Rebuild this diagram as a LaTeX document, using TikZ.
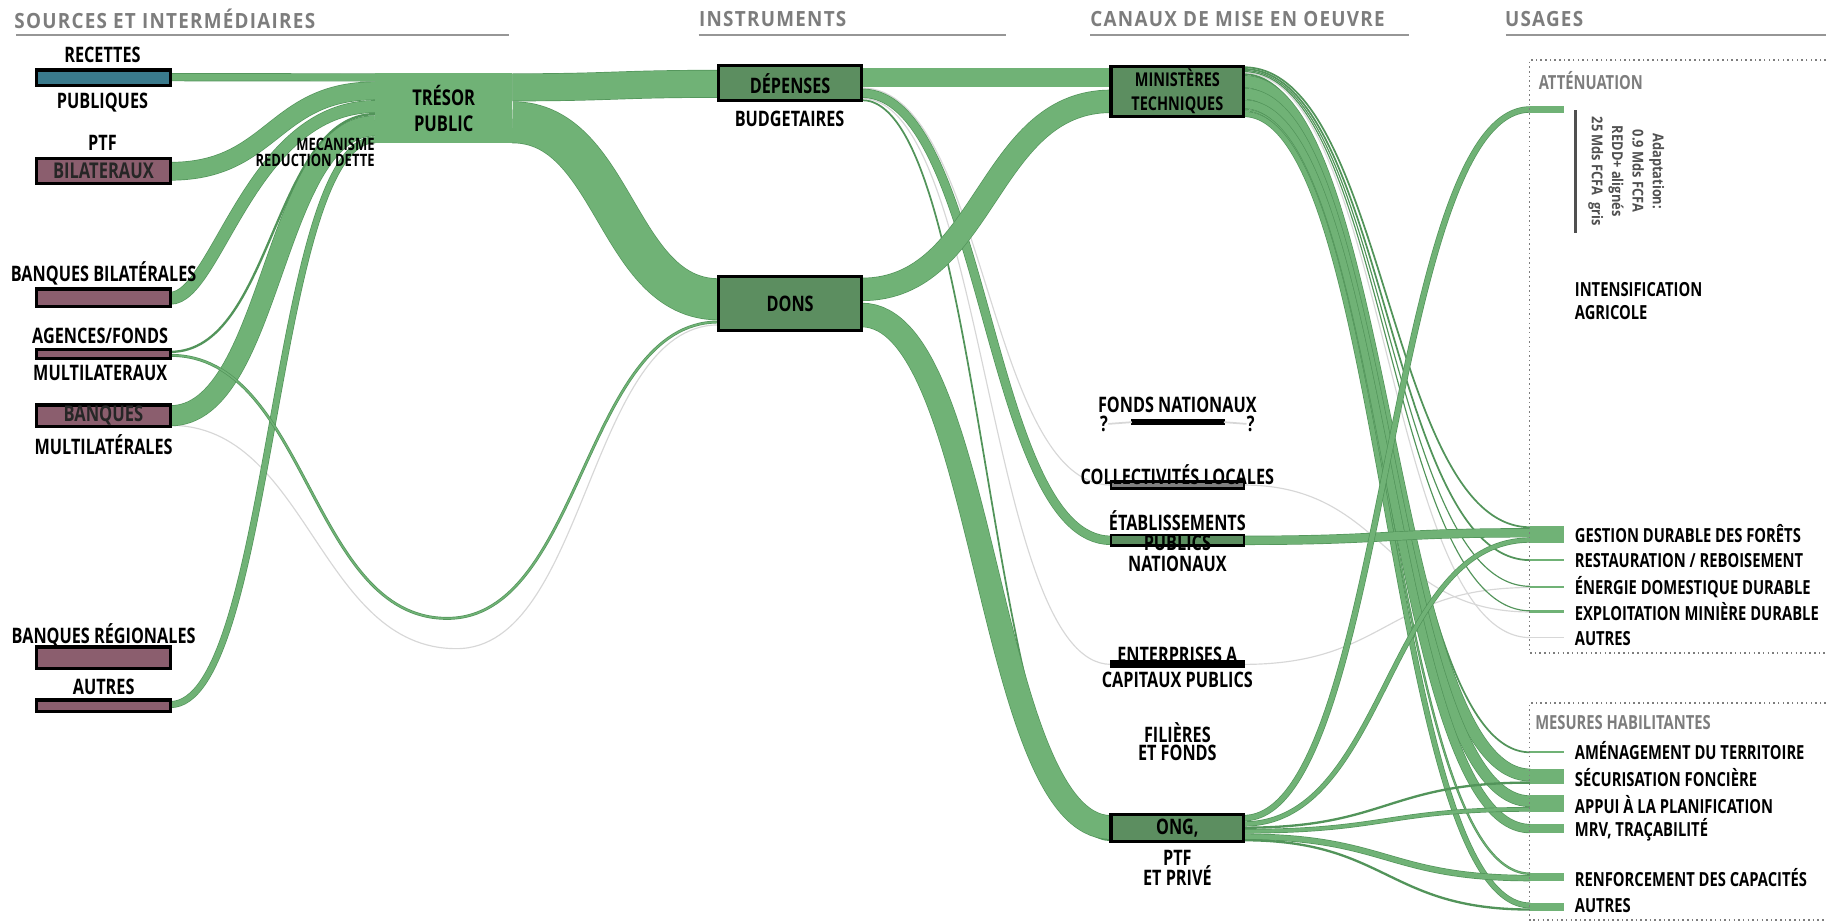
\documentclass[tikz,border=0pt]{standalone}
\usepackage{fontspec}
\newfontfamily\lblfont{Open Sans}[FakeStretch=0.76]
\newfontfamily\hdrfont{Open Sans}[FakeStretch=0.9,LetterSpace=6]
\newfontfamily\notefont{Open Sans}[FakeStretch=0.86]
\usepackage{tikz}
\usetikzlibrary{
  positioning,
  calc,
  backgrounds
}
\definecolor{FlowGreen}{RGB}{112,178,118}
\definecolor{FlowEdge}{RGB}{82,148,90}
\definecolor{BoxGreen}{RGB}{92,142,96}
\definecolor{SrcTeal}{RGB}{58,122,140}
\definecolor{SrcMauve}{RGB}{139,94,110}
\definecolor{FaintGrey}{RGB}{215,215,215}
\definecolor{HeadGrey}{RGB}{125,125,125}
\definecolor{RuleGrey}{RGB}{150,150,150}
\definecolor{NoteGrey}{RGB}{80,80,80}
\newcommand{\upx}{0.6pt}
\tikzset{
  % Source box
  srcbox/.style={
    draw=black,
    line width=1.8pt,
    fill=SrcMauve,
    minimum width=115*\upx,
    inner sep=0pt,
    outer sep=0pt,
    font=\lblfont\bfseries\fontsize{11.2}{13}\selectfont,
    text=black!85
  },
  % Instrument / channel box
  insbox/.style={
    draw=black,
    line width=1.6pt,
    fill=BoxGreen,
    minimum width=123*\upx,
    inner sep=0pt,
    outer sep=0pt,
    align=center,
    font=\lblfont\bfseries\fontsize{11}{13}\selectfont
  },
  chbox/.style={insbox, minimum width=114*\upx},
  % Thin bar of a channel
  chbar/.style={draw=black, line width=1.2pt, fill=#1, minimum width=114*\upx, inner sep=0pt, outer sep=0pt},
  % Bar of a usage
  usebar/.style={fill=FlowGreen, minimum width=29*\upx, inner sep=0pt, outer sep=0pt},
  % Flows
  band/.style={draw=FlowEdge, line width=#1*\upx, postaction={draw=FlowGreen, line width=#1*\upx-0.7pt}},
  thinband/.style={draw=FlowEdge, line width=#1*\upx},
  faint/.style={draw=FaintGrey, line width=#1*\upx},
  % Texts
  lbl/.style={font=\lblfont\bfseries\fontsize{11}{13}\selectfont, inner sep=0pt, align=center},
  ulbl/.style={font=\lblfont\bfseries\fontsize{10}{12}\selectfont, inner sep=0pt, anchor=west},
  glbl/.style={ulbl, text=HeadGrey},
  hdr/.style={font=\hdrfont\bfseries\fontsize{10.8}{12}\selectfont, text=HeadGrey, anchor=west, inner sep=0pt},
  rule/.style={draw=RuleGrey, line width=1.2pt},
  frame/.style={draw=HeadGrey, line width=0.8pt, dash pattern=on 0.8pt off 1.6pt}
}

\begin{document}
\begin{tikzpicture}[x=0.6pt, y=-0.6pt]
  \useasboundingbox (0,0) rectangle (1568,792);

  % Column headers
  \node[hdr] (hsrc) at (12,16.5)   {SOURCES ET INTERMÉDIAIRES};
  \node[hdr] (hins) at (600,16.5)  {INSTRUMENTS};
  \node[hdr] (hcan) at (936,16.5)  {CANAUX DE MISE EN OEUVRE};
  \node[hdr] (huse) at (1292,16.5) {USAGES};
  \draw[rule] (14,30) -- (437,30);
  \draw[rule] (600,30) -- (864,30);
  \draw[rule] (936,30) -- (1210,30);
  \draw[rule] (1293,30) -- (1568,30);

  % Usage frames
  \draw[frame] (1568,51.5) -- (1313.5,51.5) -- (1313.5,560.7) -- (1568,560.7);
  \draw[frame] (1568,603.6) -- (1313.5,603.6) -- (1313.5,790) -- (1568,790);

  % Sources
  \node[srcbox, fill=SrcTeal, minimum height=13.3*\upx] (rec) at (88.8,66.9) {};
  \node[srcbox, minimum height=21.5*\upx] (ptfb) at (88.8,146.8) {BILATERAUX};
  \node[srcbox, minimum height=15*\upx]   (bbil) at (88.8,255.6) {};
  \node[srcbox, minimum height=7.5*\upx]  (agf)  at (88.8,303.9) {};
  \node[srcbox, minimum height=18.5*\upx, text height=6pt, text depth=0pt] (bmul) at (88.8,357) {BANQUES};
  \node[srcbox, minimum height=18.5*\upx] (breg) at (88.8,564.8) {};
  \node[srcbox, minimum height=10*\upx]   (aut)  at (88.8,606)   {};

  % Tresor
  \node[fill=FlowGreen, minimum width=118*\upx, minimum height=60*\upx, inner sep=0pt, outer sep=0pt,
        lbl, font=\lblfont\bfseries\fontsize{11.2}{13.2}\selectfont] (tres) at (381,93) {TRÉSOR\\PUBLIC};

  % Instruments
  \node[insbox, minimum height=30*\upx] (dep)  at (678.5,71.5)  {DÉPENSES};
  \node[insbox, minimum height=46*\upx] (dons) at (678.5,260.5) {DONS};

  % Channels
  \node[chbox, minimum height=43*\upx, font=\lblfont\bfseries\fontsize{9.8}{12.5}\selectfont] (min) at (1011,78.5) {MINISTÈRES\\TECHNIQUES};
  \node[chbar=black, minimum width=79*\upx, minimum height=3*\upx] (fnat) at (1011.5,362.5) {};
  \node[chbar=gray, minimum height=6*\upx]     (coll) at (1011,416.5) {};
  \node[chbar=BoxGreen, minimum height=9*\upx] (etab) at (1011,464)   {};
  \node[chbar=black, minimum height=5*\upx]    (ent)  at (1011,570.5) {};
  \node[chbox, minimum height=23*\upx] (ong) at (1011,711) {};

  % Usages
  \node[usebar, minimum height=6*\upx]   (adap)  at (1328.5,94)    {};
  \node[usebar, minimum height=14*\upx]  (gdf)   at (1328.5,459)   {};
  \node[usebar, minimum height=1.5*\upx] (rest)  at (1328.5,481)   {};
  \node[usebar, minimum height=2*\upx]   (ener)  at (1328.5,504)   {};
  \node[usebar, minimum height=2*\upx]   (expl)  at (1328.5,525)   {};
  \node[usebar, fill=FaintGrey, minimum height=1*\upx] (autA) at (1328.5,547.5) {};
  \node[usebar, minimum height=1.5*\upx] (amen)  at (1328.5,646)   {};
  \node[usebar, minimum height=13*\upx]  (secu)  at (1328.5,666.5) {};
  \node[usebar, minimum height=14*\upx]  (appui) at (1328.5,690)   {};
  \node[usebar, minimum height=8*\upx]   (mrv)   at (1328.5,711.5) {};
  \node[usebar, minimum height=7.5*\upx] (renf)  at (1328.5,753)   {};
  \node[usebar, minimum height=7*\upx]   (autM)  at (1328.5,778.5) {};

  \coordinate (agfdip) at (384,531);
  \coordinate (bmdip)  at (392,557);

  \begin{scope}[on background layer]
    % Faint flows
    \draw[faint=1] ($(bmul.north east)+(0,17.5)$) .. controls +(118,0) and +(-118,0) .. (bmdip)
                   .. controls +(112,0) and +(-112,0) .. ($(dons.north west)+(0,41.5)$);
    \draw[faint=1] ($(dep.north east)+(0,19)$) .. controls +(107,0) and +(-107,0) .. ($(coll.north west)+(0,3)$);
    \draw[faint=1] ($(dep.north east)+(0,28)$) .. controls +(107,0) and +(-107,0) .. ($(ent.north west)+(0,2.5)$);
    \draw[faint=1] ($(coll.north east)+(0,3)$) .. controls +(123,0) and +(-123,0) .. ($(expl.north west)+(0,1.5)$);
    \draw[faint=1] ($(ent.north east)+(0,2.5)$) .. controls +(123,0) and +(-123,0) .. ($(ener.north west)+(0,1.5)$);
    \draw[faint=1] ($(min.north east)+(0,5.5)$) .. controls +(123,0) and +(-123,0) .. ($(autA.north west)+(0,0.5)$);

    % Sources -> tresor
    \draw[band=7]  ($(rec.north east)+(0,6)$) .. controls +(88,0) and +(-88,0) .. ($(tres.north west)+(0,3.5)$);
    \draw[band=16] ($(ptfb.north east)+(0,11)$) .. controls +(88,0) and +(-88,0) .. ($(tres.north west)+(0,15)$);
    \draw[band=11] ($(bbil.north east)+(0,8)$) .. controls +(40,0) and +(-107,0) .. ($(tres.north west)+(0,28.5)$);
    \draw[thinband=2] ($(agf.north east)+(0,2)$) .. controls +(88,0) and +(-88,0) .. ($(tres.north west)+(0,35)$);
    \draw[band=18] ($(bmul.north east)+(0,9.25)$) .. controls +(88,0) and +(-88,0) .. ($(tres.north west)+(0,45)$);
    \draw[band=6]  ($(aut.north east)+(0,4)$) .. controls +(88,0) and +(-88,0) .. ($(tres.north west)+(0,57)$);
    \draw[band=2.5] ($(agf.north east)+(0,5)$) .. controls +(118,0) and +(-118,0) .. (agfdip)
                    .. controls +(116,0) and +(-116,0) .. ($(dons.north west)+(0,39)$);

    % Tresor -> instruments
    \draw[band=24] ($(tres.north east)+(0,12)$) .. controls +(88,0) and +(-88,0) .. ($(dep.north west)+(0,15.5)$);
    \draw[band=36] ($(tres.north east)+(0,42)$) .. controls +(88,0) and +(-88,0) .. ($(dons.north west)+(0,19.5)$);

    % Instruments -> channels
    \draw[band=17] ($(dep.north east)+(0,10)$) .. controls +(107,0) and +(-107,0) .. ($(min.north west)+(0,9.5)$);
    \draw[band=8]  ($(dep.north east)+(0,23.5)$) .. controls +(107,0) and +(-107,0) .. ($(etab.north west)+(0,4.5)$);
    \draw[thinband=1.5] ($(dep.north east)+(0,29.5)$) .. controls +(107,0) and +(-107,0) .. ($(ong.north west)+(0,22)$);
    \draw[band=20] ($(dons.north east)+(0,11)$) .. controls +(107,0) and +(-107,0) .. ($(min.north west)+(0,30)$);
    \draw[band=21] ($(dons.north east)+(0,33)$) .. controls +(107,0) and +(-107,0) .. ($(ong.north west)+(0,11)$);

    % Ministeres -> usages
    \draw[thinband=1.5] ($(min.north east)+(0,0.75)$) .. controls +(123,0) and +(-123,0) .. ($(gdf.north west)+(0,0.75)$);
    \draw[thinband=1.5] ($(min.north east)+(0,2.25)$) .. controls +(123,0) and +(-123,0) .. ($(rest.north west)+(0,0.75)$);
    \draw[thinband=1]   ($(min.north east)+(0,3.5)$) .. controls +(123,0) and +(-123,0) .. ($(ener.north west)+(0,0.5)$);
    \draw[thinband=1]   ($(min.north east)+(0,4.5)$) .. controls +(123,0) and +(-123,0) .. ($(expl.north west)+(0,0.5)$);
    \draw[thinband=1.5] ($(min.north east)+(0,6.75)$) .. controls +(123,0) and +(-123,0) .. ($(amen.north west)+(0,0.75)$);
    \draw[band=11] ($(min.north east)+(0,13)$) .. controls +(123,0) and +(-123,0) .. ($(secu.north west)+(0,5.5)$);
    \draw[band=10] ($(min.north east)+(0,23.5)$) .. controls +(123,0) and +(-123,0) .. ($(appui.north west)+(0,5)$);
    \draw[band=8]  ($(min.north east)+(0,32.5)$) .. controls +(123,0) and +(-123,0) .. ($(mrv.north west)+(0,4)$);
    \draw[band=2]  ($(min.north east)+(0,37.5)$) .. controls +(123,0) and +(-123,0) .. ($(renf.north west)+(0,1)$);
    \draw[band=5]  ($(min.north east)+(0,41)$) .. controls +(123,0) and +(-123,0) .. ($(autM.north west)+(0,2.5)$);

    % Etablissements -> usages
    \draw[band=8] ($(etab.north east)+(0,4.5)$) .. controls +(123,0) and +(-123,0) .. ($(gdf.north west)+(0,5.5)$);

    % ONG -> usages
    \draw[band=5.5] ($(ong.north east)+(0,3)$) .. controls +(123,0) and +(-123,0) .. ($(adap.north west)+(0,3)$);
    \draw[band=4.5] ($(ong.north east)+(0,8)$) .. controls +(123,0) and +(-123,0) .. ($(gdf.north west)+(0,11.75)$);
    \draw[thinband=2] ($(ong.north east)+(0,11.25)$) .. controls +(123,0) and +(-123,0) .. ($(secu.north west)+(0,12)$);
    \draw[band=4]   ($(ong.north east)+(0,14.25)$) .. controls +(123,0) and +(-123,0) .. ($(appui.north west)+(0,12)$);
    \draw[band=5.5] ($(ong.north east)+(0,19)$) .. controls +(123,0) and +(-123,0) .. ($(renf.north west)+(0,4.75)$);
    \draw[thinband=2] ($(ong.north east)+(0,22)$) .. controls +(123,0) and +(-123,0) .. ($(autM.north west)+(0,6)$);
  \end{scope}

  % Source labels
  \node[lbl] (lrec)  at (88,47)   {RECETTES};
  \node[lbl] (lpub)  at (88,88)   {PUBLIQUES};
  \node[lbl] (lptf)  at (88,123)  {PTF};
  \node[lbl] (lbbil) at (89,235)  {BANQUES BILATÉRALES};
  \node[lbl] (lagf)  at (86,288)  {AGENCES/FONDS};
  \node[lbl] (lmlx)  at (86,320)  {MULTILATERAUX};
  \node[lbl] (lmls)  at (89,381.5) {MULTILATÉRALES};
  \node[lbl] (lbreg) at (89,546)  {BANQUES RÉGIONALES};
  \node[lbl] (laut)  at (89,590)  {AUTRES};
  \node[lbl, anchor=east, font=\lblfont\bfseries\fontsize{8.8}{8.2}\selectfont, align=right] (lmec) at (322,130.5)
    {MECANISME\\REDUCTION DETTE};

  % Instrument labels
  \node[lbl] (lbud) at (678,102) {BUDGETAIRES};

  % Channel labels
  \node[lbl] (lfnat) at (1011,347.5) {FONDS NATIONAUX};
  \node[lbl] (qleft)  at (948,364)  {?};
  \node[lbl] (qright) at (1074,364) {?};
  \draw[faint=1.5] (qleft.east) -- (fnat.west);
  \draw[faint=1.5] (fnat.east) -- (qright.west);
  \node[lbl] (lcoll) at (1011,408)   {COLLECTIVITÉS LOCALES};
  \node[lbl] (letab) at (1011,447.5) {ÉTABLISSEMENTS};
  \node[lbl] (lpubl) at (1011,466)   {PUBLICS};
  \node[lbl] (lnat)  at (1011,484)   {NATIONAUX};
  \node[lbl] (lent)  at (1011,562)   {ENTERPRISES A};
  \node[lbl] (lcap)  at (1011,584)   {CAPITAUX PUBLICS};
  \node[lbl, font=\lblfont\bfseries\fontsize{11}{9.2}\selectfont] (lfil) at (1011,637) {FILIÈRES\\ET FONDS};
  \node[lbl] (long)  at (1011,711)   {ONG,};
  \node[lbl, font=\lblfont\bfseries\fontsize{11}{10.4}\selectfont] (lptfp) at (1011,745.5) {PTF\\ET PRIVÉ};

  % Usage labels
  \node[glbl] (latt) at (1321,69)    {ATTÉNUATION};
  \node[glbl] (lmes) at (1318,620.5) {MESURES HABILITANTES};
  \draw[line width=1.2pt, NoteGrey] (1353,94.5) -- (1353,200);
  \node[rotate=-90, align=center, inner sep=0pt, text=NoteGrey,
        font=\notefont\bfseries\fontsize{7.7}{10.5}\selectfont] (lnote) at (1396.5,147)
    {Adaptation:\\0.9 Mds FCFA\\REDD+ alignés\\25 Mds FCFA\ \ gris};
  \node[ulbl, align=left, font=\lblfont\bfseries\fontsize{10}{12}\selectfont] (lint) at (1352,258.5)
    {INTENSIFICATION\\AGRICOLE};
  \node[ulbl] (lgdf)   at (1352,458)   {GESTION DURABLE DES FORÊTS};
  \node[ulbl] (lrest)  at (1352,481)   {RESTAURATION / REBOISEMENT};
  \node[ulbl] (lener)  at (1352,504)   {ÉNERGIE DOMESTIQUE DURABLE};
  \node[ulbl] (lexpl)  at (1352,525)   {EXPLOITATION MINIÈRE DURABLE};
  \node[ulbl] (lautA)  at (1352,548)   {AUTRES};
  \node[ulbl] (lamen)  at (1352,644.6) {AMÉNAGEMENT DU TERRITOIRE};
  \node[ulbl] (lsecu)  at (1352,668)   {SÉCURISATION FONCIÈRE};
  \node[ulbl] (lappui) at (1352,691)   {APPUI À LA PLANIFICATION};
  \node[ulbl] (lmrv)   at (1352,712.5) {MRV, TRAÇABILITÉ};
  \node[ulbl] (lrenf)  at (1352,753.7) {RENFORCEMENT DES CAPACITÉS};
  \node[ulbl] (lautM)  at (1352,777.8) {AUTRES};
\end{tikzpicture}
\end{document}
